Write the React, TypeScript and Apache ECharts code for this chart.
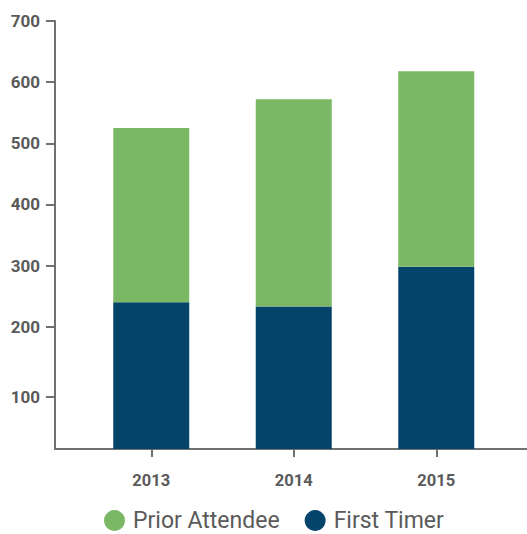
import React, { useEffect, useRef } from "react";
import * as echarts from "echarts";

const years = ["2013", "2014", "2015"];
const firstTimer = [240, 233, 298];
const priorAttendee = [285, 339, 320];
const yRange = { min: 0, max: 700 };
// tick positions as drawn in the reference (its "100" tick sits slightly low)
const yTickValues = [85, 200, 300, 400, 500, 600, 700];
const yTickLabels = ["100", "200", "300", "400", "500", "600", "700"];

const FONT = 'Roboto, "Liberation Sans", sans-serif';
const TEXT = "#5a5a5a";
const AXIS = "#707070";
const GREEN = "#7ab865";
const NAVY = "#05446a";

export default function App() {
  const ref = useRef<HTMLDivElement>(null);
  useEffect(() => {
    if (!ref.current) return;
    const chart = echarts.init(ref.current, undefined, { renderer: "svg" });
    chart.setOption({
      animation: false,
      textStyle: { fontFamily: FONT },
      grid: [
        { left: 55, right: 0, top: 21, bottom: 85 },
        { left: 80, right: 19.5, top: 21, bottom: 85 },
      ],
      legend: {
        data: ["Prior Attendee", "First Timer"],
        left: 99,
        top: 504,
        padding: 5,
        icon: "circle",
        itemWidth: 21,
        itemHeight: 21,
        itemGap: 25,
        textStyle: { fontFamily: FONT, fontSize: 23, color: TEXT, padding: [0, 0, 0, 3] },
      },
      xAxis: [
        {
          type: "category",
          gridIndex: 0,
          data: years,
          axisLine: { show: true, lineStyle: { color: AXIS, width: 2 } },
          axisTick: { show: false },
          axisLabel: { show: false },
        },
        {
          type: "category",
          gridIndex: 1,
          data: years,
          axisLine: { show: false },
          axisTick: { show: true, alignWithLabel: true, length: 8, lineStyle: { color: AXIS, width: 2 } },
          axisLabel: { margin: 23, fontFamily: FONT, fontSize: 16.5, fontWeight: "bold", color: TEXT },
        },
      ],
      yAxis: [
        {
          type: "value",
          gridIndex: 0,
          min: yRange.min,
          max: yRange.max,
          axisLine: { show: true, lineStyle: { color: AXIS, width: 2 } },
          axisTick: { show: true, length: 9, customValues: yTickValues, lineStyle: { color: AXIS, width: 2 } },
          splitLine: { show: false },
          axisLabel: {
            margin: 15,
            fontFamily: FONT,
            fontSize: 17,
            fontWeight: "bold",
            color: TEXT,
            customValues: yTickValues,
            formatter: (v: number) => {
              const i = yTickValues.indexOf(v);
              return i >= 0 ? yTickLabels[i] : "";
            },
          },
        },
        {
          type: "value",
          gridIndex: 1,
          min: yRange.min,
          max: yRange.max,
          show: false,
        },
      ],
      series: [
        {
          name: "First Timer",
          type: "bar",
          stack: "total",
          xAxisIndex: 1,
          yAxisIndex: 1,
          barWidth: 76,
          itemStyle: { color: NAVY },
          data: firstTimer,
        },
        {
          name: "Prior Attendee",
          type: "bar",
          stack: "total",
          xAxisIndex: 1,
          yAxisIndex: 1,
          barWidth: 76,
          itemStyle: { color: GREEN },
          data: priorAttendee,
        },
      ],
    });
    return () => chart.dispose();
  }, []);
  return <div ref={ref} style={{ width: 527, height: 534, position: "absolute", left: 0, top: 0 }} />;
}
